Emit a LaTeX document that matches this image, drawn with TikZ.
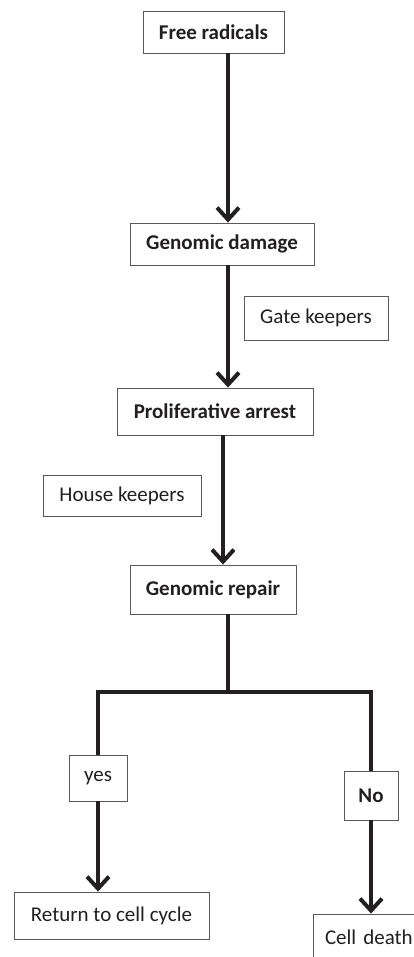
\documentclass[tikz,border=0pt]{standalone}
\usepackage{fontspec}
\setmainfont{Carlito}
\usetikzlibrary{arrows.meta}
\definecolor{ink}{HTML}{231F20}
\tikzset{
  box/.style={draw=black!65, line width=0.9pt, inner sep=0pt, font=\fontsize{21}{25}\selectfont, text=ink},
  bbox/.style={box, font=\fontsize{21}{25}\selectfont\bfseries},
  conn/.style={draw=ink, line width=4pt},
  arr/.style={conn, -{Straight Barb[length=12pt,width=22pt]}},
}
\begin{document}
\begin{tikzpicture}[x=1pt,y=1pt]
\useasboundingbox (0,0) rectangle (414,-957);
\fill[white] (0,0) rectangle (414,-957);
\node[bbox, minimum width=141, minimum height=42] (fr) at (213.5,-32) {Free radicals};
\node[bbox, minimum width=184, minimum height=42] (gd) at (222,-244) {Genomic damage};
\node[box, minimum width=144, minimum height=44] (gk) at (316,-318) {Gate keepers};
\node[bbox, minimum width=196, minimum height=47] (pa) at (215,-411.5) {Proliferative arrest};
\node[box, minimum width=158, minimum height=41] (hk) at (122,-495.5) {House keepers};
\node[bbox, minimum width=166, minimum height=49] (gr) at (213,-589.5) {Genomic repair};
\node[box, minimum width=58, minimum height=46] (yes) at (98,-778) {yes};
\node[bbox, minimum width=54, minimum height=49] (no) at (371,-795.5) {No};
\node[box, minimum width=120, minimum height=47, text width=96, align=left] (cd) at (373,-937.5) {Cell death};
\node[box, minimum width=195, minimum height=47] (ret) at (111.5,-915.5) {Return to cell cycle};
\coordinate (sp) at (228,0);
\coordinate (sp2) at (223,0);
\coordinate (bar) at (228,-692);
\draw[arr] (fr.south -| sp) -- (gd.north -| sp);
\draw[arr] (gd.south -| sp) -- (pa.north -| sp);
\draw[arr] (pa.south -| sp2) -- (gr.north -| sp2);
\draw[conn] (gr.south -| sp) -- (bar);
\draw[conn] (yes.north) |- (bar) -| (no.north);
\draw[arr] (yes.south) -- (yes.south |- ret.north);
\draw[arr] (no.south) -- (no.south |- cd.north);
\end{tikzpicture}
\end{document}
